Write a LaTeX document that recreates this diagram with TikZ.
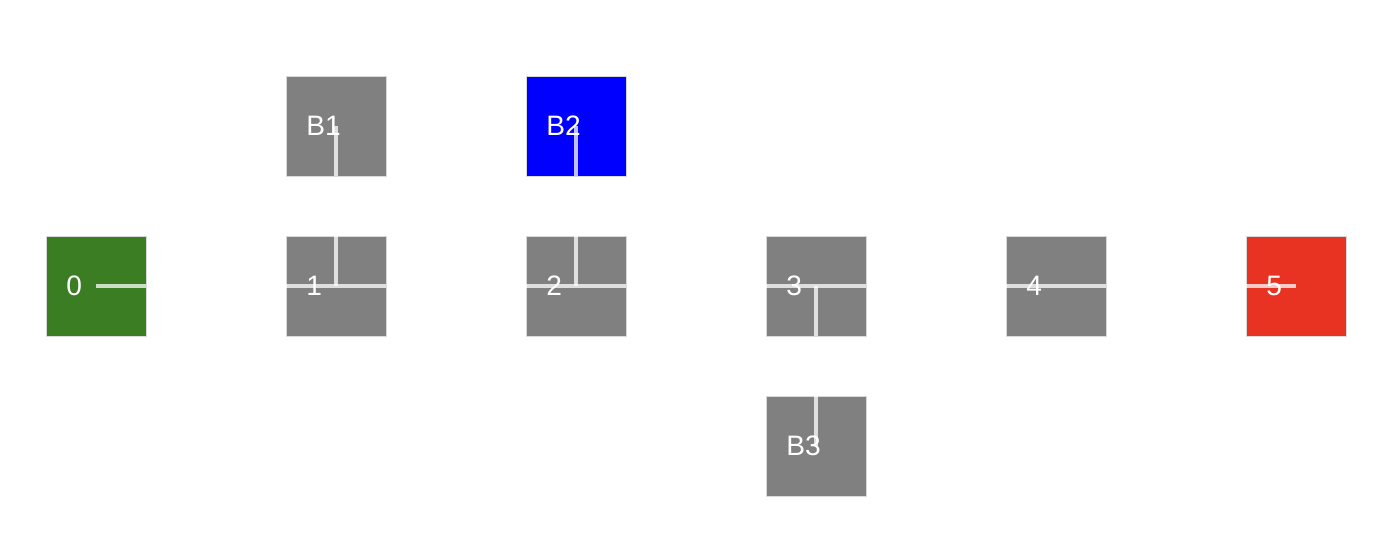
\documentclass[tikz,border=0pt]{standalone}
\usepackage{fontspec}
\setmainfont{Liberation Sans}
\usetikzlibrary{positioning}
\definecolor{cellgray}{HTML}{808080}
\definecolor{startgreen}{HTML}{3A7D22}
\definecolor{goalred}{HTML}{E83323}
\definecolor{keyblue}{HTML}{0000FF}

\begin{document}
\begin{tikzpicture}[
                cell/.style={draw=white!85!black, line width=0.5pt, rectangle, minimum size=2cm, inner sep=0pt, outer sep=0pt, fill=cellgray},
                startcell/.style={cell, fill=startgreen},
                goalcell/.style={cell, fill=goalred},
                keycell/.style={cell, fill=keyblue},
                way/.style={draw=white, draw opacity=0.75, line width=1.8pt},
                celltext/.style={anchor=west, text=white, inner sep=0pt, font=\fontsize{16}{19}\selectfont}
            ]
            \useasboundingbox (0,0) rectangle (27.92,11.04);

            % Zellen
            \node[startcell] (c0) at (1.92,5.32) {};
            \node[cell, right=2.8cm of c0] (c1) {};
            \node[cell, right=2.8cm of c1] (c2) {};
            \node[cell, right=2.8cm of c2] (c3) {};
            \node[cell, right=2.8cm of c3] (c4) {};
            \node[goalcell, right=2.8cm of c4] (c5) {};
            \node[cell, above=1.2cm of c1] (b1) {};
            \node[keycell, above=1.2cm of c2] (b2) {};
            \node[cell, below=1.2cm of c3] (b3) {};

            % Wege zwischen Zellen
            \draw[way] (c0.center) -- (c0.east) (c1.west) -- (c1.center);
            \draw[way] (c1.center) -- (c1.north) (b1.south) -- (b1.center);
            \draw[way] (c1.center) -- (c1.east) (c2.west) -- (c2.center);
            \draw[way] (c2.center) -- (c2.north) (b2.south) -- (b2.center);
            \draw[way] (c2.center) -- (c2.east) (c3.west) -- (c3.center);
            \draw[way] (c3.center) -- (c3.south) (b3.north) -- (b3.center);
            \draw[way] (c3.center) -- (c3.east) (c4.west) -- (c4.center);
            \draw[way] (c4.center) -- (c4.east) (c5.west) -- (c5.center);

            % Beschriftung
            \node[celltext] (t0) at ([xshift=0.4cm] c0.west) {0};
            \node[celltext] (t1) at ([xshift=0.4cm] c1.west) {1};
            \node[celltext] (t2) at ([xshift=0.4cm] c2.west) {2};
            \node[celltext] (t3) at ([xshift=0.4cm] c3.west) {3};
            \node[celltext] (t4) at ([xshift=0.4cm] c4.west) {4};
            \node[celltext] (t5) at ([xshift=0.4cm] c5.west) {5};
            \node[celltext] (tb1) at ([xshift=0.4cm] b1.west) {B1};
            \node[celltext] (tb2) at ([xshift=0.4cm] b2.west) {B2};
            \node[celltext] (tb3) at ([xshift=0.4cm] b3.west) {B3};

        \end{tikzpicture}
\end{document}
